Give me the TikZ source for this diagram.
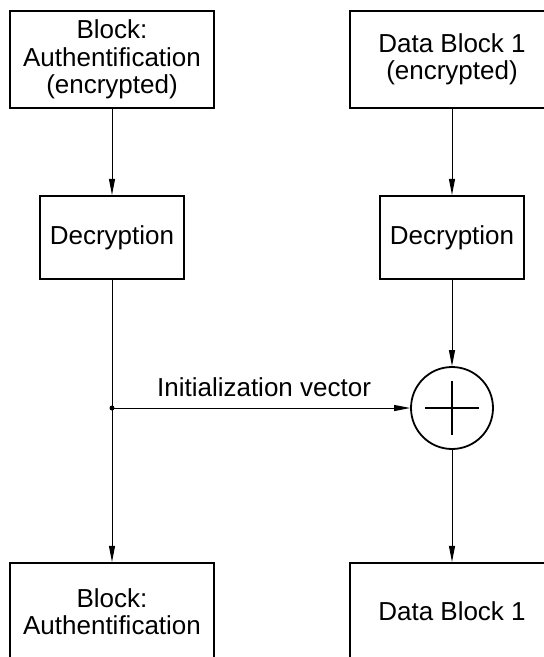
\documentclass[tikz,border=0pt]{standalone}
\usepackage{fontspec}
\setmainfont{Liberation Sans}
\usetikzlibrary{arrows.meta}

\begin{document}
\begin{tikzpicture}[x=1pt,y=-1pt]
	\tikzstyle{block} = [draw, line width=2.2pt, align=center, inner sep=0pt, minimum width=204pt, minimum height=97pt, font=\fontsize{26}{27.5}\selectfont]
	\tikzstyle{decr} = [block, minimum width=144pt, minimum height=83pt]
	\tikzstyle{flow} = [-{Stealth[length=16pt, width=6pt, inset=0pt]}, line width=0.9pt]

	\useasboundingbox (0,0) rectangle (544,657);
	\clip (0,0) rectangle (544,657);

	\node[block] (authin)  at (112,59.5)  {Block:\\Authentification\\(encrypted)};
	\node[block] (datain)  at (452,59.5)  {Data Block 1\\(encrypted)};
	\node[decr]  (decl)    at (112,237.5) {Decryption};
	\node[decr]  (decr)    at (452,237.5) {Decryption};
	\node[draw, circle, line width=1.8pt, minimum size=82pt, inner sep=0pt] (xor) at (452,408) {};
	\node[block] (authout) at (112,611.5) {Block:\\Authentification};
	\node[block] (dataout) at (452,611.5) {Data Block 1};
	\coordinate (split) at (112,408);

	\draw[line width=1.8pt] (xor.center) ++(-27,0) -- ++(54,0);
	\draw[line width=1.8pt] (xor.center) ++(0,-27) -- ++(0,54);

	\draw[flow] (authin) -- (decl);
	\draw[flow] (datain) -- (decr);
	\draw[flow] (decl) -- (authout);
	\draw[flow] (decr) -- (xor);
	\draw[flow] (xor) -- (dataout);
	\draw[flow] (split) -- node[above=11pt, pos=0.51, inner sep=0pt, font=\fontsize{26}{27.5}\selectfont] (ivlabel) {Initialization vector} (xor);
	\fill (split) circle (2.5pt);
\end{tikzpicture}
\end{document}
